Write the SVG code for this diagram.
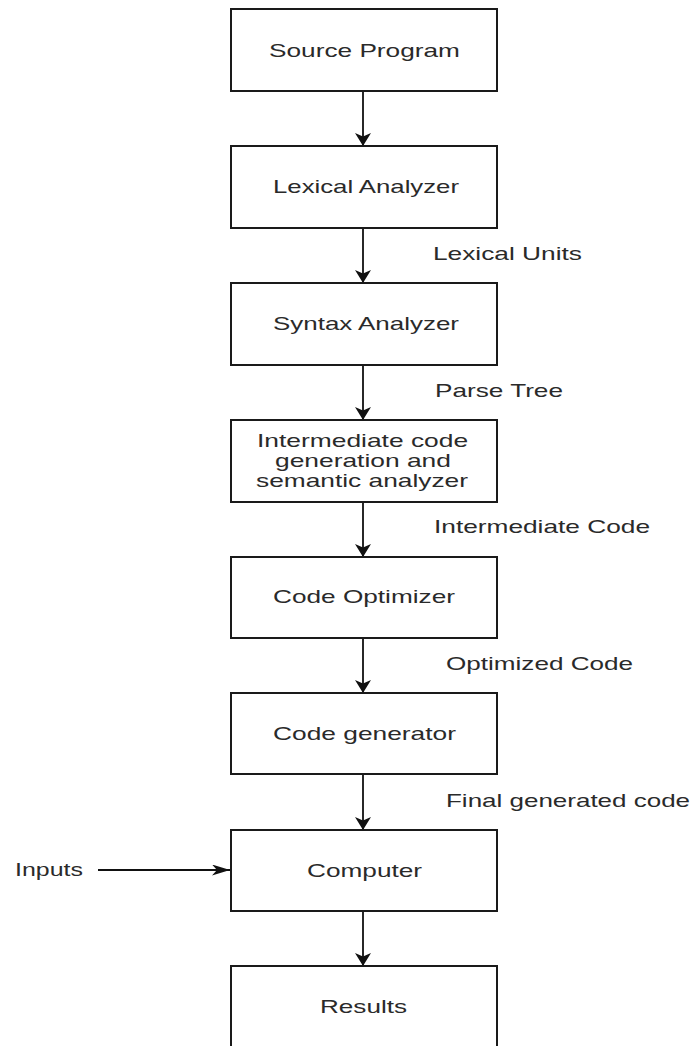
<svg xmlns="http://www.w3.org/2000/svg" width="694" height="1046" viewBox="0 0 694 1046">
<style>
.box{fill:#ffffff;stroke:#1a1a1a;stroke-width:2}
.t{font-family:"Liberation Sans",Arial,sans-serif;font-size:17.5px;fill:#2a2a2a}
.ln{fill:none;stroke:#111111;stroke-width:1.8}
</style>
<defs>
<marker id="av" markerUnits="userSpaceOnUse" markerWidth="14" markerHeight="18" refX="13" refY="8" orient="auto" viewBox="0 0 14 18">
<path d="M0,0 L13,8 L0,16 L3.5,8 Z" fill="#111111"/>
</marker>
<marker id="ah" markerUnits="userSpaceOnUse" markerWidth="20" markerHeight="12" refX="18" refY="5.5" orient="auto" viewBox="0 0 20 12">
<path d="M0,0 L18,5.5 L0,11 L5,5.5 Z" fill="#111111"/>
</marker>
</defs>
<rect width="694" height="1046" fill="#ffffff"/>
<g id="connectors">
<line class="ln" x1="363" y1="91" x2="363" y2="146" marker-end="url(#av)"/>
<line class="ln" x1="363" y1="228" x2="363" y2="283" marker-end="url(#av)"/>
<line class="ln" x1="363" y1="365" x2="363" y2="420" marker-end="url(#av)"/>
<line class="ln" x1="363" y1="502" x2="363" y2="557" marker-end="url(#av)"/>
<line class="ln" x1="363" y1="638" x2="363" y2="693" marker-end="url(#av)"/>
<line class="ln" x1="363" y1="774" x2="363" y2="830" marker-end="url(#av)"/>
<line class="ln" x1="363" y1="911" x2="363" y2="966" marker-end="url(#av)"/>
<line class="ln" x1="98" y1="870" x2="230" y2="870" marker-end="url(#ah)"/>
<text class="t" transform="translate(433,260) scale(1.5,1)" textLength="99.3" lengthAdjust="spacingAndGlyphs">Lexical Units</text>
<text class="t" transform="translate(435,397) scale(1.5,1)" textLength="85.3" lengthAdjust="spacingAndGlyphs">Parse Tree</text>
<text class="t" transform="translate(434,533) scale(1.5,1)" textLength="144" lengthAdjust="spacingAndGlyphs">Intermediate Code</text>
<text class="t" transform="translate(446,670) scale(1.5,1)" textLength="124.7" lengthAdjust="spacingAndGlyphs">Optimized Code</text>
<text class="t" transform="translate(446,807) scale(1.5,1)" textLength="162.7" lengthAdjust="spacingAndGlyphs">Final generated code</text>
</g>
<g id="source-program">
<rect class="box" x="231" y="9" width="266" height="82"/>
<text class="t" transform="translate(269,57) scale(1.5,1)" textLength="127.3" lengthAdjust="spacingAndGlyphs">Source Program</text>
</g>
<g id="lexical-analyzer">
<rect class="box" x="231" y="146" width="266" height="82"/>
<text class="t" transform="translate(273,193) scale(1.5,1)" textLength="124" lengthAdjust="spacingAndGlyphs">Lexical Analyzer</text>
</g>
<g id="syntax-analyzer">
<rect class="box" x="231" y="283" width="266" height="82"/>
<text class="t" transform="translate(273,330) scale(1.5,1)" textLength="124" lengthAdjust="spacingAndGlyphs">Syntax Analyzer</text>
</g>
<g id="intermediate">
<rect class="box" x="231" y="420" width="266" height="82"/>
<text class="t" transform="translate(257,447) scale(1.5,1)" textLength="140.7" lengthAdjust="spacingAndGlyphs">Intermediate code</text>
<text class="t" transform="translate(275,467) scale(1.5,1)" textLength="117.3" lengthAdjust="spacingAndGlyphs">generation and</text>
<text class="t" transform="translate(256,487) scale(1.5,1)" textLength="141.3" lengthAdjust="spacingAndGlyphs">semantic analyzer</text>
</g>
<g id="code-optimizer">
<rect class="box" x="231" y="557" width="266" height="81"/>
<text class="t" transform="translate(273,603) scale(1.5,1)" textLength="121.3" lengthAdjust="spacingAndGlyphs">Code Optimizer</text>
</g>
<g id="code-generator">
<rect class="box" x="231" y="693" width="266" height="81"/>
<text class="t" transform="translate(273,740) scale(1.5,1)" textLength="122" lengthAdjust="spacingAndGlyphs">Code generator</text>
</g>
<g id="computer">
<rect class="box" x="231" y="830" width="266" height="81"/>
<text class="t" transform="translate(307,877) scale(1.5,1)" textLength="76.7" lengthAdjust="spacingAndGlyphs">Computer</text>
</g>
<g id="results">
<rect class="box" x="231" y="966" width="266" height="82"/>
<text class="t" transform="translate(320,1013) scale(1.5,1)" textLength="58" lengthAdjust="spacingAndGlyphs">Results</text>
</g>
<g id="inputs">
<text class="t" transform="translate(15,876) scale(1.5,1)" textLength="45.3" lengthAdjust="spacingAndGlyphs">Inputs</text>
</g>
</svg>
